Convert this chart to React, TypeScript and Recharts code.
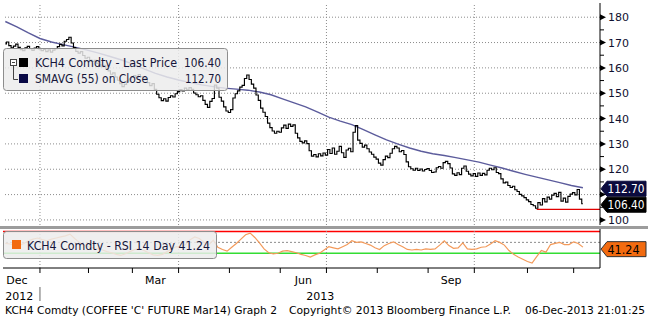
import { ComposedChart, Line, XAxis, YAxis, ReferenceLine } from 'recharts';

const FONT = '"DejaVu Sans", Verdana, sans-serif';
const PLOT_RIGHT = 600;
const X_DOMAIN: [number, number] = [-1, 257.4];
const AXIS_Y = 39;

// KCH4 daily closes by month, trading-day index 0 = 10 Dec 2012
const dec12 = [169.5, 170.2, 168.8, 167.9, 168.6, 169.4, 168.1, 167.2, 166.8, 167.9, 168.5, 167.6, 166.9, 167.8, 168.4];
const jan13 = [167.5, 166.8, 167.3, 166.4, 167.1, 166.2, 167.0, 167.6, 168.4, 169.3, 168.7, 170.5, 171.2, 172.1, 169.8, 168.0, 166.5, 165.8, 166.4, 164.9, 163.8];
const feb13 = [164.2, 163.1, 162.5, 163.0, 161.8, 161.2, 160.5, 161.0, 159.6, 158.8, 157.5, 158.0, 156.4, 155.1, 153.8, 152.6, 153.5, 154.8, 155.6];
const mar13 = [156.2, 157.0, 156.1, 157.4, 156.5, 155.3, 155.9, 154.2, 153.0, 153.8, 151.5, 149.6, 148.2, 147.1, 147.8, 146.9, 148.3, 149.0, 148.5, 149.8];
const apr13 = [150.6, 151.4, 150.9, 152.0, 151.3, 152.2, 151.5, 150.1, 149.4, 148.6, 149.0, 147.2, 145.6, 144.4, 146.8, 147.9, 153.2, 152.0, 148.4, 146.9, 144.6, 143.0];
const may13 = [142.4, 143.5, 148.1, 149.8, 150.9, 152.4, 153.1, 155.8, 157.2, 155.4, 153.6, 152.0, 149.3, 147.2, 144.1, 142.5, 140.8, 138.2, 136.4, 135.1, 134.2, 135.0];
const jun13 = [134.6, 136.3, 137.4, 136.1, 137.8, 136.9, 137.5, 134.2, 132.4, 131.0, 130.4, 131.2, 130.1, 127.3, 125.2, 125.8, 124.9, 126.1, 125.3, 126.4];
const jul13 = [125.6, 127.8, 126.2, 128.4, 125.9, 127.1, 129.0, 126.5, 124.7, 127.6, 128.3, 126.9, 134.6, 137.2, 131.5, 130.2, 128.7, 129.5, 128.1, 126.8, 125.9, 124.8];
const aug13 = [124.0, 122.4, 121.6, 123.8, 125.2, 124.6, 126.3, 128.1, 129.0, 128.4, 126.9, 127.4, 125.8, 122.9, 121.0, 120.2, 119.6, 120.4, 119.5, 120.1, 119.3, 119.9];
const sep13 = [120.3, 119.5, 118.7, 118.9, 120.6, 121.1, 120.4, 122.6, 123.1, 122.2, 120.5, 118.2, 117.6, 118.6, 117.9, 120.4, 121.3, 119.2, 118.1, 117.4];
const oct13 = [118.3, 117.2, 118.5, 117.6, 118.4, 117.8, 119.6, 120.4, 119.8, 120.6, 118.7, 118.3, 116.2, 114.6, 114.9, 113.6, 112.8, 113.3, 111.9, 111.2, 110.1, 109.5, 108.8];
const nov13 = [107.9, 107.2, 106.1, 105.6, 104.6, 106.8, 105.9, 108.4, 107.1, 109.0, 108.2, 109.8, 110.5, 109.2, 110.9, 107.4, 108.6, 107.0, 109.3, 110.2];
const dec13 = [110.8, 109.9, 112.0, 108.2, 106.4];

// SMAVG(55), read every 5 trading days
const sma55 = [178.3, 176.2, 173.8, 171.6, 170.2, 169.2, 168.2, 167.1, 165.9, 164.6, 163.2, 161.6, 159.6, 157.8, 156.4, 155.2, 154.2, 153.3, 152.6, 152.0, 151.6, 151.2, 150.5, 149.4, 147.8, 146.2, 144.6, 142.6, 140.6, 139.0, 137.6, 135.6, 133.6, 131.6, 129.9, 128.4, 127.1, 126.1, 125.4, 124.6, 123.7, 122.8, 121.6, 120.5, 119.2, 118.0, 116.9, 115.8, 114.7, 113.6, 112.7];

// RSI 14 day, read every 2 trading days
const rsiDecFeb = [48, 47, 45, 44, 48, 53, 56, 58, 55, 53, 56, 58, 60, 62, 65, 57, 50, 45, 42, 40, 38, 36, 33, 31, 28, 26, 29, 33, 37, 39, 35, 31];
const rsiMarMay = [27, 26, 28, 33, 38, 42, 41, 46, 55, 60, 57, 50, 45, 54, 41, 37, 34, 41, 48, 56, 64, 67, 59, 49, 38, 31, 29, 30, 34, 35, 33, 31];
const rsiJunAug = [28, 26, 23, 27, 30, 36, 42, 40, 38, 42, 46, 53, 50, 51, 48, 45, 40, 37, 44, 48, 51, 46, 42, 37, 36, 37, 36, 38, 37, 38, 45, 53];
const rsiSepDec = [44, 39, 40, 49, 38, 37, 38, 41, 42, 47, 53, 50, 45, 35, 28, 23, 19, 15, 12, 24, 35, 32, 46, 48, 50, 46, 46, 51, 48, 41.24];

const monthStarts = [15, 36, 55, 75, 97, 119, 139, 161, 183, 203, 226, 246];
const quarterStarts = [15, 75, 139, 203];
const monthLabels = [
  { at: 5, text: 'Dec' },
  { at: 65, text: 'Mar' },
  { at: 129, text: 'Jun' },
  { at: 193, text: 'Sep' },
];
const yearLabels = [
  { at: 6, text: '2012' },
  { at: 136.3, text: '2013' },
];
const priceTicks = [100, 105, 110, 115, 120, 125, 130, 135, 140, 145, 150, 155, 160, 165, 170, 175, 180];
const priceGrid = [100, 110, 120, 130, 140, 150, 160, 170, 180];

const closes = [...dec12, ...jan13, ...feb13, ...mar13, ...apr13, ...may13, ...jun13, ...jul13, ...aug13, ...sep13, ...oct13, ...nov13, ...dec13];
const priceRows = closes.map((close, i) => ({ i, close }));
const smaRows = sma55.map((sma, k) => ({ i: k * 5, sma }));
const rsiRows = [...rsiDecFeb, ...rsiMarMay, ...rsiJunAug, ...rsiSepDec].map((rsi, k) => ({ i: k * 2, rsi }));
const xTicks = [...monthStarts, ...monthLabels.map((m) => m.at), ...yearLabels.map((y) => y.at)].sort((a, b) => a - b);

function PriceTick(props: any) {
  const { y, payload } = props;
  const v = payload.value;
  if (v % 10 !== 0) {
    return <line x1={PLOT_RIGHT} x2={PLOT_RIGHT + 4} y1={y} y2={y} stroke="#000" />;
  }
  return (
    <g>
      <polygon points={`${PLOT_RIGHT},${y - 3} ${PLOT_RIGHT + 6},${y} ${PLOT_RIGHT},${y + 3}`} fill="#000" />
      {v !== 110 && (
        <text x={PLOT_RIGHT + 8} y={y + 4} fontSize={11} fontFamily={FONT} fill="#101030">
          {v}
        </text>
      )}
    </g>
  );
}

function TimeTick(props: any) {
  const { x, payload } = props;
  const v = payload.value;
  const month = monthLabels.find((m) => m.at === v);
  const year = yearLabels.find((m) => m.at === v);
  if (month) {
    return (
      <text x={x} y={AXIS_Y + 16} textAnchor="middle" fontSize={11} fontFamily={FONT} fill="#000">
        {month.text}
      </text>
    );
  }
  if (year) {
    return (
      <text x={x} y={AXIS_Y + 32} textAnchor="middle" fontSize={11} fontFamily={FONT} fill="#000">
        {year.text}
      </text>
    );
  }
  return (
    <g>
      <line x1={x} x2={x} y1={AXIS_Y} y2={AXIS_Y + 5} stroke="#000" />
      {v === 15 && <line x1={x} x2={x} y1={AXIS_Y + 19} y2={AXIS_Y + 33} stroke="#666" />}
    </g>
  );
}

function Badge(props: any) {
  const { viewBox, text, fill, color, stroke, dy = 0 } = props;
  const x0 = viewBox.x + viewBox.width;
  const y = viewBox.y + dy;
  return (
    <g>
      <path
        d={`M${x0 + 1},${y} L${x0 + 7},${y - 7.5} H${x0 + 46} V${y + 7.5} H${x0 + 7} Z`}
        fill={fill}
        stroke={stroke ?? fill}
      />
      <text
        x={x0 + 7.5}
        y={y + 4.5}
        fontSize={12}
        fontFamily={FONT}
        fill={color}
        textLength={text.length > 5 ? 37 : 32}
        lengthAdjust="spacingAndGlyphs"
      >
        {text}
      </text>
    </g>
  );
}

export default function App() {
  return (
    <div style={{ position: 'absolute', left: 0, top: 0, width: 648, height: 316, background: '#fff', overflow: 'hidden' }}>
      <div style={{ position: 'absolute', left: 0, top: 0 }}>
        <ComposedChart width={648} height={226} margin={{ top: 3, right: 0, bottom: 1, left: 3 }}>
          <XAxis type="number" dataKey="i" domain={X_DOMAIN} allowDataOverflow hide />
          <YAxis
            orientation="right"
            width={48}
            domain={[98.0, 185.6]}
            allowDataOverflow
            ticks={priceTicks}
            interval={0}
            tick={<PriceTick />}
            tickLine={false}
            axisLine={{ stroke: '#000' }}
          />
          {priceGrid.map((v) => (
            <ReferenceLine key={v} y={v} stroke="#8c8c8c" strokeDasharray="1 2" />
          ))}
          {quarterStarts.map((q) => (
            <ReferenceLine key={q} x={q} stroke="#8c8c8c" strokeDasharray="1 2" />
          ))}
          <ReferenceLine segment={[{ x: 230, y: 104.2 }, { x: 257.4, y: 104.2 }]} stroke="#e00000" strokeWidth={1.2} />
          <Line data={smaRows} dataKey="sma" stroke="#5c5c9c" strokeWidth={1.4} dot={false} isAnimationActive={false} />
          <Line data={priceRows} dataKey="close" type="step" stroke="#000" strokeWidth={1.15} dot={false} isAnimationActive={false} />
          <ReferenceLine y={112.7} stroke="none" label={<Badge text="112.70" fill="#0b0b3e" color="#fff" dy={1} />} />
          <ReferenceLine y={106.4} stroke="none" label={<Badge text="106.40" fill="#000" color="#fff" dy={1} />} />
        </ComposedChart>
      </div>

      <div style={{ position: 'absolute', left: 0, top: 226, width: 648, height: 3, background: '#9c9c9c' }} />

      <div style={{ position: 'absolute', left: 0, top: 229 }}>
        <ComposedChart width={648} height={90} margin={{ top: 0, right: 0, bottom: 0, left: 3 }}>
          <XAxis
            type="number"
            dataKey="i"
            domain={X_DOMAIN}
            allowDataOverflow
            ticks={xTicks}
            interval={0}
            tick={<TimeTick />}
            tickLine={false}
            axisLine={{ stroke: '#000' }}
            height={51}
          />
          <YAxis orientation="right" width={48} domain={[3, 74.5]} allowDataOverflow ticks={[20, 50]} tick={false} axisLine={{ stroke: '#000' }} />
          <ReferenceLine y={70} stroke="#ff0000" strokeWidth={1.5} />
          <ReferenceLine y={50} stroke="#8c8c8c" strokeDasharray="2 2" />
          <ReferenceLine y={30} stroke="#33dd33" strokeWidth={1.5} />
          {quarterStarts.map((q) => (
            <ReferenceLine key={q} x={q} stroke="#8c8c8c" strokeDasharray="1 2" />
          ))}
          <Line data={rsiRows} dataKey="rsi" stroke="#f39a5a" strokeWidth={1.2} dot={false} isAnimationActive={false} />
          <ReferenceLine y={41.24} stroke="none" label={<Badge text="41.24" fill="#f26b10" color="#000" stroke="#333" dy={2} />} />
        </ComposedChart>
      </div>

      <svg width={648} height={316} style={{ position: 'absolute', left: 0, top: 0, pointerEvents: 'none' }} fontFamily={FONT}>
        <rect x={3.5} y={48.5} width={224} height={42} rx={3} fill="rgba(236,236,236,0.84)" stroke="#8d8d8d" />
        <rect x={10.5} y={59.5} width={6} height={6} fill="#fff" stroke="#444" />
        <line x1={12} x2={15} y1={62.5} y2={62.5} stroke="#444" />
        <polyline points="13.5,65.5 13.5,79.5 18,79.5" fill="none" stroke="#444" />
        <rect x={19} y={58} width={9} height={9} fill="#000" />
        <rect x={19} y={74} width={9} height={9} fill="#0a0a46" />
        <text x={35} y={67} fontSize={12} fill="#16163a" textLength={142} lengthAdjust="spacingAndGlyphs">
          KCH4 Comdty - Last Price
        </text>
        <text x={184} y={67} fontSize={12} fill="#16163a" textLength={37} lengthAdjust="spacingAndGlyphs">
          106.40
        </text>
        <text x={35} y={83} fontSize={12} fill="#16163a" textLength={113} lengthAdjust="spacingAndGlyphs">
          SMAVG (55) on Close
        </text>
        <text x={185} y={83} fontSize={12} fill="#16163a" textLength={36} lengthAdjust="spacingAndGlyphs">
          112.70
        </text>

        <rect x={3.5} y={231.5} width={213} height={27} rx={3} fill="rgba(236,236,236,0.84)" stroke="#8d8d8d" />
        <rect x={12} y={240} width={9} height={9} fill="#f26a10" />
        <text x={27} y={250} fontSize={12} fill="#16163a" textLength={183} lengthAdjust="spacingAndGlyphs">
          KCH4 Comdty - RSI 14 Day 41.24
        </text>

        <text x={5} y={314} fontSize={11} fill="#000" textLength={272} lengthAdjust="spacingAndGlyphs">
          KCH4 Comdty (COFFEE 'C' FUTURE Mar14) Graph 2
        </text>
        <text x={289} y={314} fontSize={11} fill="#000" textLength={222} lengthAdjust="spacingAndGlyphs">
          Copyright© 2013 Bloomberg Finance L.P.
        </text>
        <text x={525} y={314} fontSize={11} fill="#000" textLength={120} lengthAdjust="spacingAndGlyphs">
          06-Dec-2013 21:01:25
        </text>
      </svg>
    </div>
  );
}
